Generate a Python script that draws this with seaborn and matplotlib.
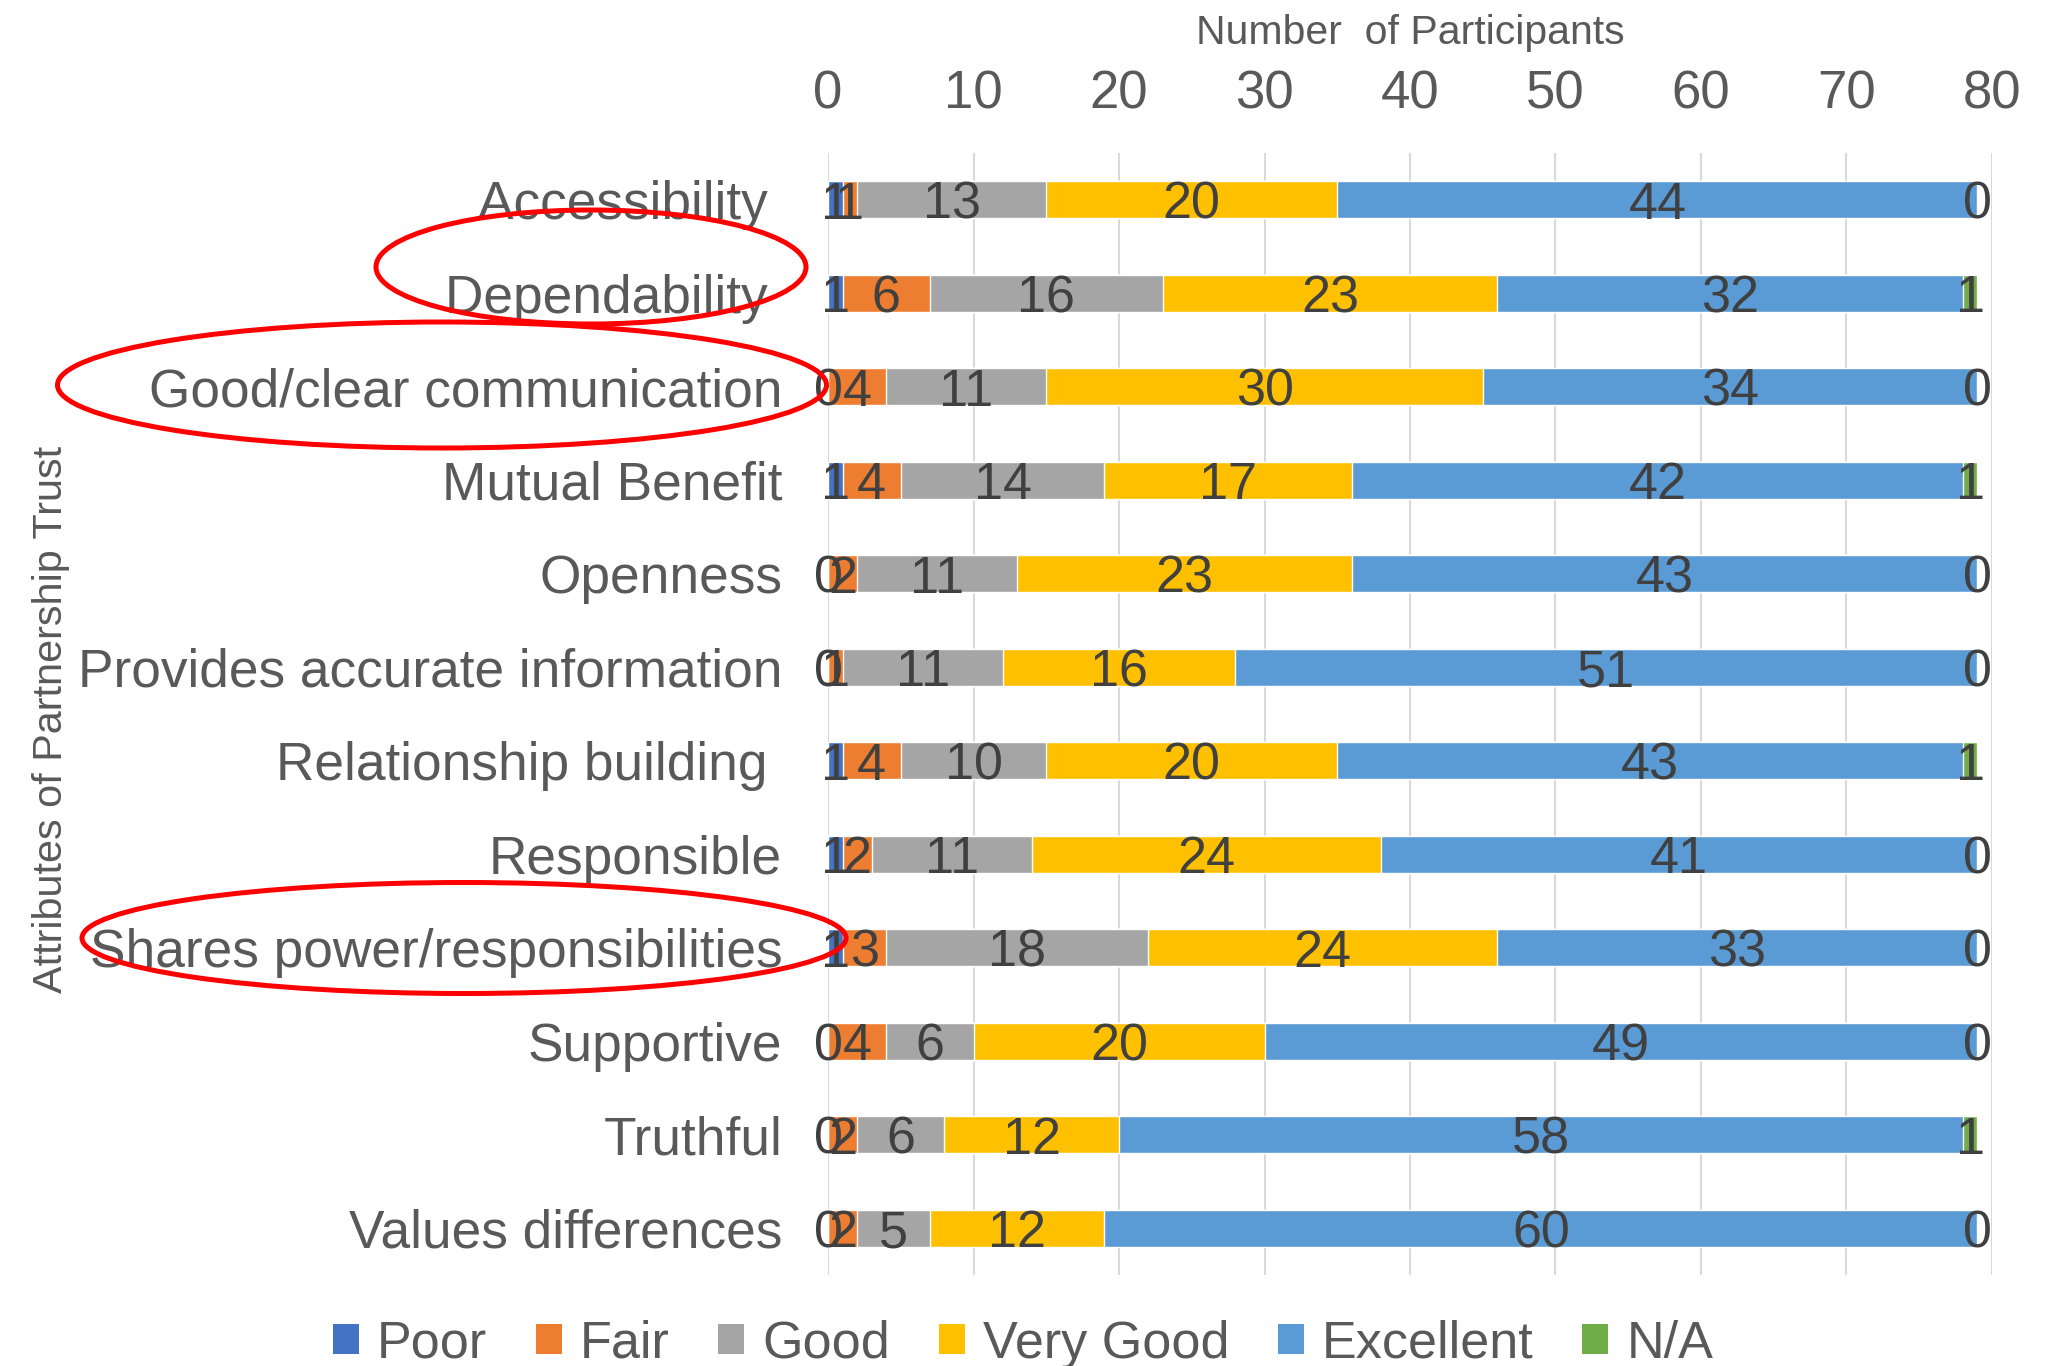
import numpy as np
import pandas as pd
import matplotlib
matplotlib.use("Agg")
import matplotlib.pyplot as plt
from matplotlib.patches import Ellipse, Patch
import seaborn as sns

categories = ["Accessibility ", "Dependability ", "Good/clear communication", "Mutual Benefit",
              "Openness", "Provides accurate information", "Relationship building ", "Responsible",
              "Shares power/responsibilities", "Supportive", "Truthful", "Values differences"]
series_names = ["Poor", "Fair", "Good", "Very Good", "Excellent", "N/A"]
poor = [1, 1, 0, 1, 0, 0, 1, 1, 1, 0, 0, 0]
fair = [1, 6, 4, 4, 2, 1, 4, 2, 3, 4, 2, 2]
good = [13, 16, 11, 14, 11, 11, 10, 11, 18, 6, 6, 5]
very_good = [20, 23, 30, 17, 23, 16, 20, 24, 24, 20, 12, 12]
excellent = [44, 32, 34, 42, 43, 51, 43, 41, 33, 49, 58, 60]
na = [0, 1, 0, 1, 0, 0, 1, 0, 0, 0, 1, 0]
x_ticks = [0, 10, 20, 30, 40, 50, 60, 70, 80]
colors = ["#4472C4", "#ED7D31", "#A5A5A5", "#FFC000", "#5B9BD5", "#70AD47"]

sns.set_theme(style="white")
plt.rcParams['font.family'] = ['Liberation Sans', 'DejaVu Sans']

values = np.array([poor, fair, good, very_good, excellent, na])
cum = np.cumsum(values, axis=0)
left = cum - values

fig = plt.figure(figsize=(20.67, 13.66), dpi=100)
ax = fig.add_axes([0.4006, 0.0666, 0.5631, 0.8214])

# stacked bars: draw cumulative totals from largest to smallest
for i in range(len(series_names) - 1, -1, -1):
    df = pd.DataFrame({"cat": categories, "val": cum[i]})
    sns.barplot(data=df, x="val", y="cat", color=colors[i], saturation=1,
                width=0.4, ax=ax, orient="h", zorder=2)

# data labels
for i in range(len(series_names)):
    for j in range(len(categories)):
        ax.text(left[i, j] + values[i, j] / 2, j, str(values[i, j]),
                ha="center", va="center_baseline", fontsize=37.5, color="#404040", zorder=5)

ax.set_xlim(0, 80)
ax.set_ylim(len(categories) - 0.5, -0.5)
ax.set_xticks(x_ticks)
ax.xaxis.tick_top()
ax.xaxis.set_label_position("top")
ax.grid(axis="x", color="#D9D9D9", linewidth=1.5, zorder=0)
ax.grid(axis="y", visible=False)
ax.set_axisbelow(True)
for s in ax.spines.values():
    s.set_visible(False)
ax.tick_params(axis="x", length=0, pad=24, labelsize=38, labelcolor="#595959")
ax.tick_params(axis="y", length=0, pad=33, labelsize=38.3, labelcolor="#595959")

ax.set_xlabel("Number  of Participants", fontsize=29.5, color="#595959")
ax.xaxis.label.set_va("center")
ax.xaxis.set_label_coords(0.5, 1.107)
ax.set_ylabel("Attributes of Partnership Trust", fontsize=29.8, color="#595959")
ax.yaxis.label.set_va("center")
ax.yaxis.set_label_coords(-0.668, 0.495)

handles = [Patch(facecolor=c, edgecolor="none", label=n) for c, n in zip(colors, series_names)]
fig.legend(handles=handles, loc="center", bbox_to_anchor=(0.495, 0.016), ncol=6,
           frameon=False, fontsize=37.5, handlelength=0.5, handleheight=0.5,
           handletextpad=0.35, columnspacing=0.93, labelcolor="#595959")

W, H = 2067, 1366
for cx, cy, w, h in [(591, 267, 430, 114), (442, 385, 769, 126), (464, 938, 764, 111)]:
    fig.add_artist(Ellipse((cx / W, 1 - cy / H), w / W, h / H, fill=False,
                           edgecolor="#FF0000", linewidth=3.6, transform=fig.transFigure, zorder=10))

fig.savefig("out.png", dpi=100)
